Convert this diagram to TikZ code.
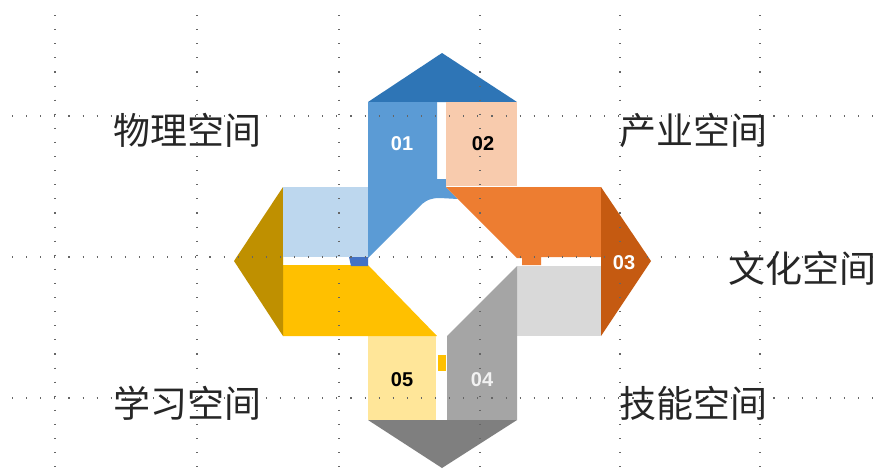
\documentclass[tikz,border=0pt]{standalone}
\usepackage{fontspec}
\setmainfont{Liberation Sans}
\newfontfamily\cjk{Noto Sans CJK SC}
\definecolor{arrowTop}{HTML}{2E75B6}
\definecolor{blueA}{HTML}{5B9BD5}
\definecolor{peach}{HTML}{F8CBAD}
\definecolor{orangeA}{HTML}{ED7D31}
\definecolor{orangeD}{HTML}{C55A11}
\definecolor{lgray}{HTML}{D9D9D9}
\definecolor{grayA}{HTML}{A5A5A5}
\definecolor{grayD}{HTML}{7F7F7F}
\definecolor{lyellow}{HTML}{FFE699}
\definecolor{yellowA}{HTML}{FFC000}
\definecolor{goldD}{HTML}{BF9000}
\definecolor{lblue}{HTML}{BDD7EE}
\definecolor{blueD}{HTML}{4472C4}
\definecolor{labelc}{HTML}{262626}
\begin{document}
\begin{tikzpicture}[x=1pt,y=-1pt,
  gridline/.style={draw=black!60,line width=1.1pt,dash pattern=on 1.1pt off 13pt},
  numlabel/.style={font=\fontsize{20}{24}\selectfont\bfseries,inner sep=0pt},
  spacelabel/.style={font=\cjk\fontsize{37}{44}\selectfont,text=labelc,inner sep=0pt}]
\useasboundingbox (0,0) rectangle (880,475);
\fill[white] (0,0) rectangle (880,475);
% top arm
\fill[arrowTop] (368,102) -- (517,102) -- (442,53) -- cycle;
\fill[blueA] (368,102) -- (437,102) -- (437,179) -- (446,179) -- (446,187) -- (458,199)
  -- (440,198) .. controls (431,198) and (427,200) .. (422,204) -- (368,258) -- cycle;
\fill[peach] (446,102) rectangle (517,186);
% right arm
\fill[orangeA] (446,187) -- (601,187) -- (601,257) -- (541,257) -- (541,265) -- (522,265)
  -- (522,258) -- (517,258) -- cycle;
\fill[orangeD] (601,187) -- (651,261) -- (601,336) -- cycle;
\fill[lgray] (517,266) rectangle (601,336);
% bottom arm
\fill[grayA] (517,266) -- (517,420) -- (447,420) -- (447,336) -- cycle;
\fill[grayD] (368,420) -- (517,420) -- (442,468) -- cycle;
\fill[lyellow] (368,336) rectangle (436,420);
\fill[yellowA] (438,355) rectangle (446,371);
% left arm
\fill[yellowA] (283,265) -- (368,265) -- (437,336) -- (283,336) -- cycle;
\fill[goldD] (283,187) -- (234,261) -- (283,336) -- cycle;
\fill[lblue] (283,187) rectangle (368,257);
\fill[blueD] (349,257) -- (368,257) -- (368,266) -- (351,266) -- cycle;
% grid
\foreach \gx in {55,197,339,480,620,760} \draw[gridline] (\gx,15) -- (\gx,475);
\foreach \gy in {116,257,398} \draw[gridline] (12,\gy) -- (880,\gy);
% numbers
\node[numlabel,text=white] (n01) at (402,144) {01};
\node[numlabel,text=black] (n02) at (483,144) {02};
\node[numlabel,text=white] (n03) at (624,263) {03};
\node[numlabel,text=white!95!black] (n04) at (482,380) {04};
\node[numlabel,text=black] (n05) at (402,380) {05};
% labels
\node[spacelabel] (wuli) at (187,130) {物理空间};
\node[spacelabel] (chanye) at (693,130) {产业空间};
\node[spacelabel] (wenhua) at (802,268) {文化空间};
\node[spacelabel] (xuexi) at (187,403) {学习空间};
\node[spacelabel] (jineng) at (693,403) {技能空间};
\end{tikzpicture}
\end{document}
